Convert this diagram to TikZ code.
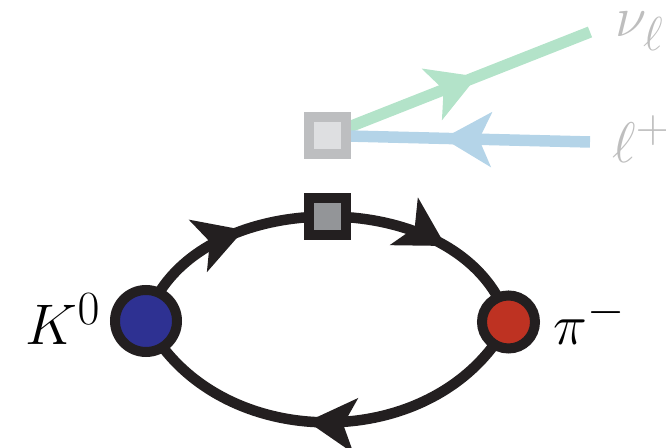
\documentclass[tikz,border=0pt]{standalone}
\usetikzlibrary{arrows.meta,decorations.markings}

\definecolor{ink}{HTML}{231F20}
\definecolor{kaon}{HTML}{2E3192}
\definecolor{pion}{HTML}{BE3222}
\definecolor{vtxgray}{HTML}{939598}
\definecolor{lepgray}{HTML}{BDBEC0}
\definecolor{lepfill}{HTML}{DEDFE1}
\definecolor{nucol}{HTML}{B3E3C9}
\definecolor{lcol}{HTML}{B4D4E8}
\definecolor{labgray}{HTML}{BEBEBE}

\pgfdeclarelayer{lines}
\pgfsetlayers{lines,main}

\tikzset{
  fermtip/.tip={Stealth[length=24pt,width=27pt,inset=6pt]},
  meson/.style={circle, draw=ink, line width=5pt, inner sep=0pt},
  vertex/.style={rectangle, draw=ink, fill=vtxgray, line width=5pt,
    minimum size=18.5pt, inner sep=0pt},
  lepvertex/.style={rectangle, draw=lepgray, fill=lepfill, line width=5pt,
    minimum size=18.5pt, inner sep=0pt},
  prop/.style={draw=ink, line width=5.25pt, postaction={decorate},
    decoration={markings, mark=at position #1 with {\arrow{fermtip}}}},
  lepton/.style 2 args={draw=#1, line width=5.75pt, postaction={decorate},
    decoration={markings, mark=at position #2 with {\arrow[#1]{fermtip}}}},
  particle/.style={inner sep=0pt, font=\Huge, scale=1.15},
}

\begin{document}
\begin{tikzpicture}[x=0.5pt, y=-0.5pt]
  \useasboundingbox (0,0) rectangle (666,448);

  % vertices
  \node[meson, fill=kaon, minimum size=31pt] (K) at (146,321) {};
  \node[meson, fill=pion, minimum size=26.5pt] (P) at (508.5,322) {};
  \node[vertex] (V) at (327.5,216.5) {};
  \node[lepvertex] (L) at (327.5,135.5) {};
  \coordinate (nuend) at (590,32);
  \coordinate (lend) at (590,142);

  % labels
  \node[particle, anchor=base east] (Klab) at (101,345) {$K^0$};
  \node[particle, anchor=base west] (Plab) at (553,345) {$\pi^-$};
  \node[particle, anchor=base west, text=labgray] (nulab) at (615,37) {$\nu_\ell$};
  \node[particle, anchor=base west, text=labgray] (llab) at (612,163) {$\ell^+$};

  % propagators, drawn beneath the vertices
  \begin{pgfonlayer}{lines}
    \draw[prop=0.62] (K.center) .. controls (168,251) and (247.5,216.5) .. (V.center);
    \draw[prop=0.55] (V.center) .. controls (407.5,216.5) and (486.5,251) .. (P.center);
    \draw[prop=0.545] (P.center) .. controls (438,456) and (216,456) .. (K.center);
    \draw[lepton={nucol}{0.57}] (L.center) -- (nuend);
    \draw[lepton={lcol}{0.56}] (lend) -- (L.center);
  \end{pgfonlayer}
\end{tikzpicture}
\end{document}
